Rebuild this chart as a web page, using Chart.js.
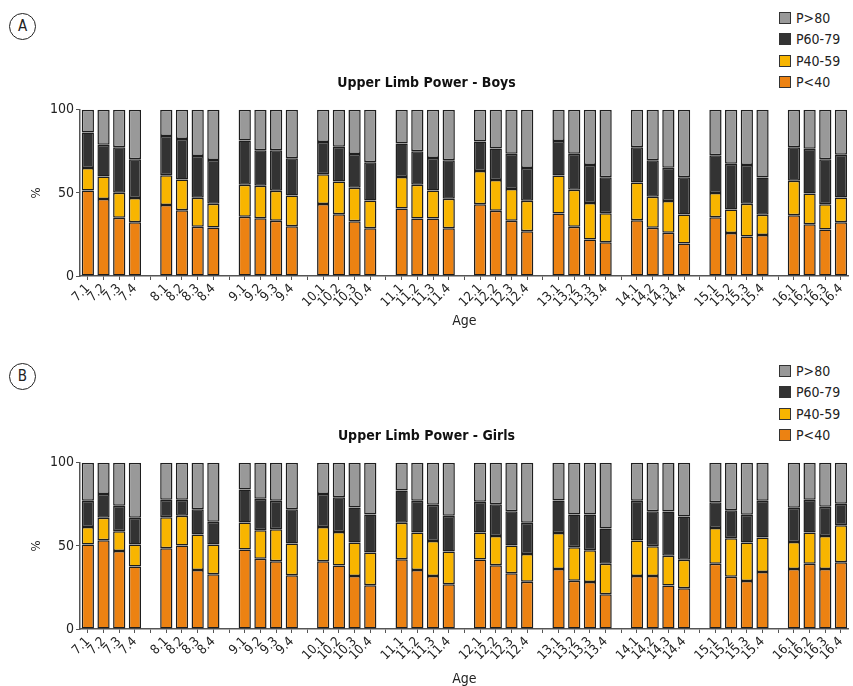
<!DOCTYPE html>
<html lang="en">
<head>
<meta charset="UTF-8">
<title>Upper Limb Power</title>
<script src="https://cdn.jsdelivr.net/npm/chart.js"></script>
<style>
  body { margin: 0; background: #fff; width: 853px; height: 686px; overflow: hidden; position: relative;
         font-family: "Liberation Sans Narrow", "DejaVu Sans Condensed", "Roboto Condensed", Roboto, sans-serif; color: #222; }
  canvas { position: absolute; left: 0; }
  #chartA { top: 60px; }
  #chartB { top: 413px; }
  .badge { position: absolute; left: 9px; width: 25px; height: 25px; border: 1px solid #222; border-radius: 50%;
           text-align: center; line-height: 25px; font-size: 15px; }
  .legend { position: absolute; left: 779px; font-size: 14px; }
  .legend div { height: 21.3px; line-height: 21.3px; white-space: nowrap; }
  .legend span { display: inline-block; width: 10px; height: 10px; border: 1px solid #333; margin-right: 5px; vertical-align: -1px; }
</style>
</head>
<body>
  <div class="badge" style="top:13px">A</div>
  <div class="badge" style="top:363px">B</div>
  <div class="legend" style="top:8px" id="legA"></div>
  <div class="legend" style="top:361px" id="legB"></div>
  <canvas id="chartA" width="853" height="273"></canvas>
  <canvas id="chartB" width="853" height="278"></canvas>

<script>
// age groups and sub-categories
const ages = [7, 8, 9, 10, 11, 12, 13, 14, 15, 16];
const subs = [1, 2, 3, 4];
const seriesNames = ['P<40', 'P40-59', 'P60-79', 'P>80'];
const seriesColors = ['#ec8212', '#f8b500', '#333333', '#999999'];

// Boys, % per band (7.1 ... 16.4)
const boysP40 = [51.5, 46.3, 35.0, 32.4, 42.7, 39.6, 29.6, 29.2, 35.6, 34.8, 33.2, 30.0, 43.3, 37.2, 33.0, 28.8, 40.6, 34.6, 34.6, 28.8,
                 43.1, 39.2, 33.2, 27.0, 37.6, 29.6, 21.9, 20.3, 33.6, 29.0, 26.0, 19.5, 35.4, 25.8, 23.7, 24.7, 36.6, 31.2, 28.0, 32.4];
const boysP4059 = [13.5, 13.5, 15.1, 14.5, 17.9, 18.5, 17.5, 14.3, 19.3, 19.5, 18.1, 18.5, 17.9, 19.7, 20.1, 16.7, 19.0, 20.3, 16.9, 17.7,
                   20.1, 18.5, 19.1, 18.3, 22.8, 22.3, 22.0, 17.5, 22.7, 18.7, 19.1, 17.5, 14.5, 14.2, 19.8, 12.1, 20.7, 18.5, 15.1, 14.9];
const boysP6079 = [21.3, 19.2, 27.4, 23.3, 23.7, 24.4, 25.1, 26.3, 26.6, 21.4, 24.4, 22.3, 19.5, 20.8, 20.3, 22.9, 20.1, 20.1, 19.5, 23.1,
                   17.7, 19.0, 21.3, 19.7, 20.9, 21.7, 22.9, 21.6, 21.2, 21.9, 20.1, 22.4, 22.7, 27.6, 23.3, 22.4, 20.2, 26.8, 27.1, 25.7];
const boysP80 = [13.7, 21.0, 22.5, 29.8, 15.7, 17.5, 27.8, 30.2, 18.5, 24.3, 24.3, 29.2, 19.3, 22.3, 26.6, 31.6, 20.3, 25.0, 29.0, 30.4,
                 19.1, 23.3, 26.4, 35.0, 18.7, 26.4, 33.2, 40.6, 22.5, 30.4, 34.8, 40.6, 27.4, 32.4, 33.2, 40.8, 22.5, 23.5, 29.8, 27.0];

// Girls
const girlsP40 = [50.8, 53.4, 47.0, 37.6, 48.6, 50.2, 35.5, 32.9, 47.8, 42.2, 40.8, 32.3, 40.8, 38.2, 31.9, 26.3, 42.0, 35.5, 31.9, 26.9,
                  41.8, 38.4, 33.5, 28.5, 36.1, 29.1, 28.3, 20.9, 31.9, 31.9, 26.1, 24.5, 39.2, 31.5, 28.9, 34.3, 36.1, 39.2, 36.1, 40.2];
const girlsP4059 = [10.6, 13.5, 11.8, 13.2, 18.7, 17.9, 21.3, 17.9, 16.3, 17.2, 19.2, 19.1, 20.6, 20.2, 20.1, 19.7, 21.9, 22.5, 21.1, 19.7,
                    16.2, 17.6, 16.7, 16.7, 21.7, 20.1, 19.1, 18.3, 21.3, 17.9, 17.9, 17.1, 21.6, 23.1, 23.1, 20.7, 16.3, 18.8, 19.9, 22.2];
const girlsP6079 = [15.7, 14.4, 15.3, 16.1, 10.4, 9.6, 15.3, 13.7, 19.8, 18.9, 17.1, 20.7, 19.9, 20.9, 21.1, 22.9, 19.4, 19.1, 21.7, 21.5,
                    18.5, 19.1, 20.7, 18.7, 19.5, 19.7, 21.5, 21.2, 23.9, 21.1, 26.7, 26.1, 15.5, 16.9, 16.7, 22.1, 20.5, 19.7, 17.5, 12.9];
const girlsP80 = [22.9, 18.7, 25.9, 33.1, 22.3, 22.3, 27.9, 35.5, 16.1, 21.7, 22.9, 27.9, 18.7, 20.7, 26.9, 31.1, 16.7, 22.9, 25.3, 31.9,
                  23.5, 24.9, 29.1, 36.1, 22.7, 31.1, 31.1, 39.6, 22.9, 29.1, 29.3, 32.3, 23.7, 28.5, 31.3, 22.9, 27.1, 22.3, 26.5, 24.7];

const FONT = '"Liberation Sans Narrow", "DejaVu Sans Condensed", "Roboto Condensed", Roboto, sans-serif';

// labels with an empty slot between age groups
const labels = [];
ages.forEach((a, i) => {
  subs.forEach(s => labels.push(a + '.' + s));
  if (i < ages.length - 1) labels.push('');
});

// spread 40 values over the 49 slots (null in the gaps)
function spread(values) {
  const out = [];
  let k = 0;
  labels.forEach(l => out.push(l === '' ? null : values[k++]));
  return out;
}

function makeLegend(id) {
  const el = document.getElementById(id);
  for (let i = seriesNames.length - 1; i >= 0; i--) {
    const row = document.createElement('div');
    row.innerHTML = '<span style="background:' + seriesColors[i] + '"></span>' + seriesNames[i].replace('<', '&lt;').replace('>', '&gt;');
    el.appendChild(row);
  }
}

function makeChart(id, title, series, xHeight) {
  new Chart(document.getElementById(id), {
    type: 'bar',
    data: {
      labels: labels,
      datasets: series.map((vals, i) => ({
        label: seriesNames[i],
        data: spread(vals),
        backgroundColor: seriesColors[i],
        borderColor: '#1e1e1e',
        borderWidth: 1.5,
        borderSkipped: false,
        barPercentage: 0.78,
        categoryPercentage: 1
      }))
    },
    options: {
      responsive: false,
      animation: false,
      plugins: {
        legend: { display: false },
        tooltip: { enabled: false },
        title: {
          display: true,
          text: title,
          color: '#111',
          font: { family: FONT, size: 14, weight: 'bold' },
          padding: { top: 15, bottom: 18 }
        }
      },
      scales: {
        x: {
          stacked: true,
          afterFit: s => { s.height = xHeight; },
          grid: { drawOnChartArea: false, offset: false, tickLength: 4, color: '#555' },
          border: { color: '#555', width: 1.5 },
          ticks: { autoSkip: false, minRotation: 45, maxRotation: 45, padding: 1, color: '#222', font: { family: FONT, size: 13 } },
          title: { display: true, text: 'Age', color: '#222', font: { family: FONT, size: 14 }, padding: { top: 0, bottom: 3 } }
        },
        y: {
          stacked: true,
          min: 0, max: 100,
          afterFit: s => { s.width = 80; },
          grid: { drawOnChartArea: false, tickLength: 4, color: '#555' },
          border: { color: '#555', width: 1.5 },
          ticks: { stepSize: 50, padding: 2, color: '#222', font: { family: FONT, size: 14 } },
          title: { display: true, text: '%', color: '#222', font: { family: FONT, size: 13 }, padding: { top: 29 } }
        }
      }
    }
  });
}

makeLegend('legA');
makeLegend('legB');
makeChart('chartA', 'Upper Limb Power - Boys', [boysP40, boysP4059, boysP6079, boysP80], 57);
makeChart('chartB', 'Upper Limb Power - Girls', [girlsP40, girlsP4059, girlsP6079, girlsP80], 62);
</script>
</body>
</html>
